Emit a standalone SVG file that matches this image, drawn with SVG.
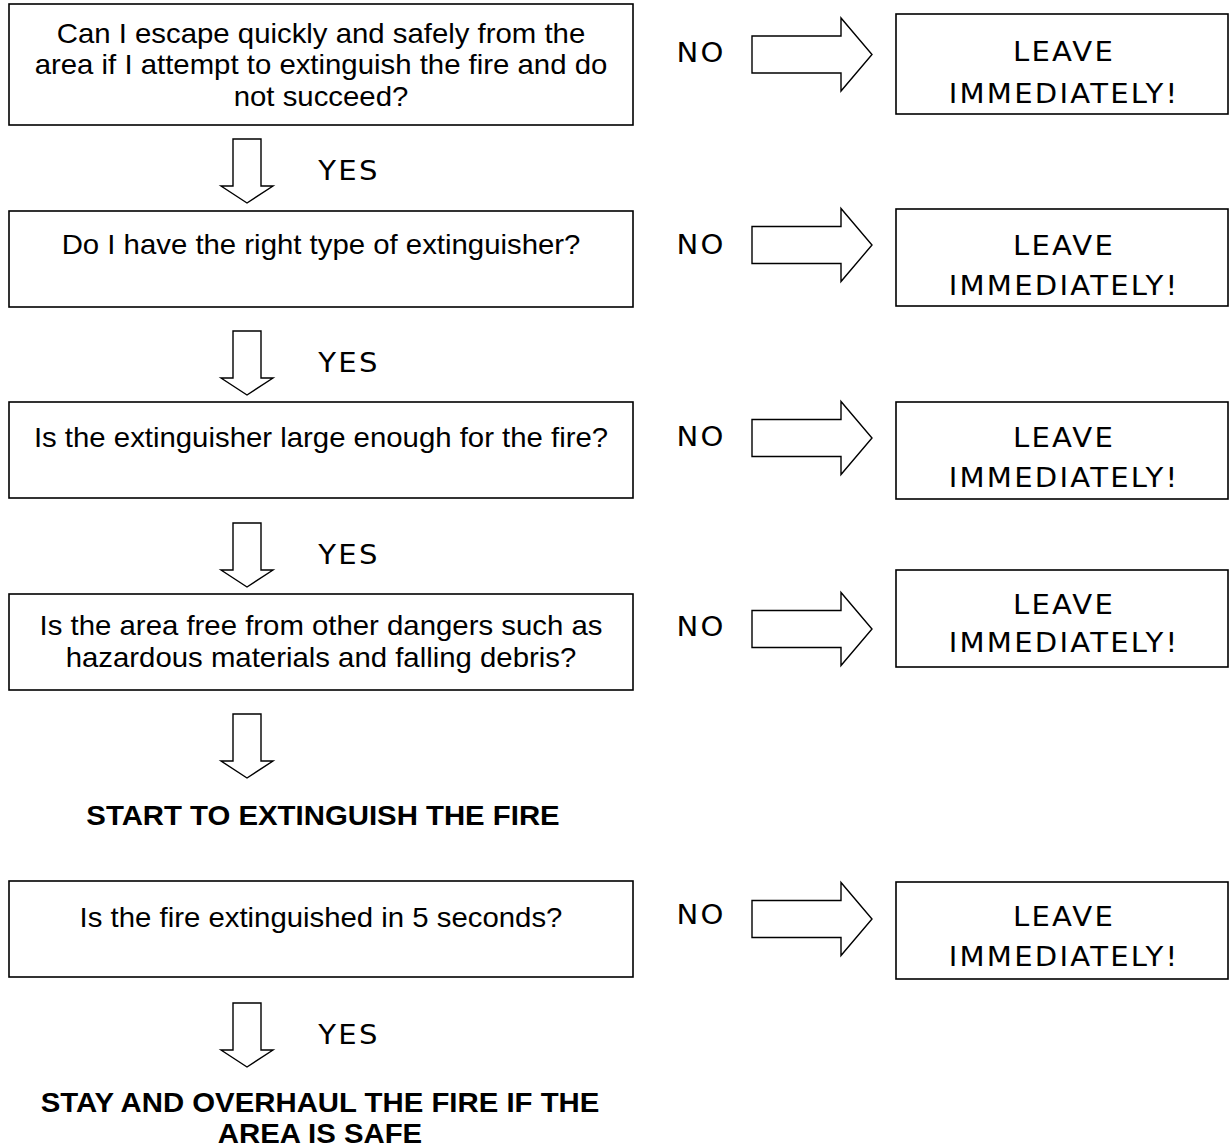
<svg xmlns="http://www.w3.org/2000/svg" xmlns:xlink="http://www.w3.org/1999/xlink" width="1232" height="1148" viewBox="0 0 1232 1148">
<style>
.box{fill:#fff;stroke:#000;stroke-width:1.6}
.arr{fill:#fff;stroke:#000;stroke-width:1.4;stroke-linejoin:miter}
.q{font-family:"Liberation Sans",Arial,sans-serif;font-size:28.5px;fill:#000;text-anchor:middle}
.b{font-family:"Liberation Sans",Arial,sans-serif;font-size:28.5px;font-weight:bold;fill:#000;text-anchor:middle}
.v{font-family:"DejaVu Sans",Verdana,sans-serif;font-size:26px;fill:#000;text-anchor:middle;letter-spacing:2px}
</style>
<defs>
<path id="ra" class="arr" d="M752,-18.5 H841 V-36.5 L872,0 L841,36.5 V18.5 H752 Z"/>
<path id="da" class="arr" d="M233,0 H261 V47 H273 L247,64 L221,47 H233 Z"/>
</defs>
<rect width="1232" height="1148" fill="#fff"/>

<g id="connectors">
<use xlink:href="#da" transform="translate(0,139)"/>
<use xlink:href="#da" transform="translate(0,331)"/>
<use xlink:href="#da" transform="translate(0,523)"/>
<use xlink:href="#da" transform="translate(0,714)"/>
<use xlink:href="#da" transform="translate(0,1003)"/>
<use xlink:href="#ra" transform="translate(0,54.5)"/>
<use xlink:href="#ra" transform="translate(0,245)"/>
<use xlink:href="#ra" transform="translate(0,438)"/>
<use xlink:href="#ra" transform="translate(0,629)"/>
<use xlink:href="#ra" transform="translate(0,919)"/>
<g transform="translate(349,0) scale(1.12,1)">
<text class="v" x="0" y="180">YES</text>
<text class="v" x="0" y="372">YES</text>
<text class="v" x="0" y="564">YES</text>
<text class="v" x="0" y="1044">YES</text>
</g>
<g transform="translate(701,0) scale(1.12,1)">
<text class="v" x="0" y="62">NO</text>
<text class="v" x="0" y="254">NO</text>
<text class="v" x="0" y="446">NO</text>
<text class="v" x="0" y="636">NO</text>
<text class="v" x="0" y="924">NO</text>
</g>
</g>

<g id="q1">
<rect class="box" x="9" y="4" width="624" height="121"/>
<g transform="translate(321,0) scale(1.03,1)">
<text class="q" x="0" y="43">Can I escape quickly and safely from the</text>
<text class="q" x="0" y="74.5">area if I attempt to extinguish the fire and do</text>
<text class="q" x="0" y="106">not succeed?</text>
</g>
</g>

<g id="q2">
<rect class="box" x="9" y="211" width="624" height="96"/>
<g transform="translate(321,0) scale(1.03,1)">
<text class="q" x="0" y="254">Do I have the right type of extinguisher?</text>
</g>
</g>

<g id="q3">
<rect class="box" x="9" y="402" width="624" height="96"/>
<g transform="translate(321,0) scale(1.03,1)">
<text class="q" x="0" y="447">Is the extinguisher large enough for the fire?</text>
</g>
</g>

<g id="q4">
<rect class="box" x="9" y="594" width="624" height="96"/>
<g transform="translate(321,0) scale(1.03,1)">
<text class="q" x="0" y="635">Is the area free from other dangers such as</text>
<text class="q" x="0" y="667.5">hazardous materials and falling debris?</text>
</g>
</g>

<g id="start">
<g transform="translate(323,0) scale(1.03,1)">
<text class="b" x="0" y="825.5">START TO EXTINGUISH THE FIRE</text>
</g>
</g>

<g id="q5">
<rect class="box" x="9" y="881" width="624" height="96"/>
<g transform="translate(321,0) scale(1.03,1)">
<text class="q" x="0" y="927">Is the fire extinguished in 5 seconds?</text>
</g>
</g>

<g id="stay">
<g transform="translate(320,0) scale(1.03,1)">
<text class="b" x="0" y="1112">STAY AND OVERHAUL THE FIRE IF THE</text>
<text class="b" x="0" y="1143">AREA IS SAFE</text>
</g>
</g>

<g id="leave1">
<rect class="box" x="896" y="14" width="332" height="100"/>
<g transform="translate(1064,0) scale(1.12,1)">
<text class="v" x="0" y="61">LEAVE</text>
<text class="v" x="0" y="103">IMMEDIATELY!</text>
</g>
</g>
<g id="leave2">
<rect class="box" x="896" y="209" width="332" height="97"/>
<g transform="translate(1064,0) scale(1.12,1)">
<text class="v" x="0" y="255">LEAVE</text>
<text class="v" x="0" y="295">IMMEDIATELY!</text>
</g>
</g>
<g id="leave3">
<rect class="box" x="896" y="402" width="332" height="97"/>
<g transform="translate(1064,0) scale(1.12,1)">
<text class="v" x="0" y="447">LEAVE</text>
<text class="v" x="0" y="487">IMMEDIATELY!</text>
</g>
</g>
<g id="leave4">
<rect class="box" x="896" y="570" width="332" height="97"/>
<g transform="translate(1064,0) scale(1.12,1)">
<text class="v" x="0" y="614">LEAVE</text>
<text class="v" x="0" y="652">IMMEDIATELY!</text>
</g>
</g>
<g id="leave5">
<rect class="box" x="896" y="882" width="332" height="97"/>
<g transform="translate(1064,0) scale(1.12,1)">
<text class="v" x="0" y="926">LEAVE</text>
<text class="v" x="0" y="966">IMMEDIATELY!</text>
</g>
</g>
</svg>
